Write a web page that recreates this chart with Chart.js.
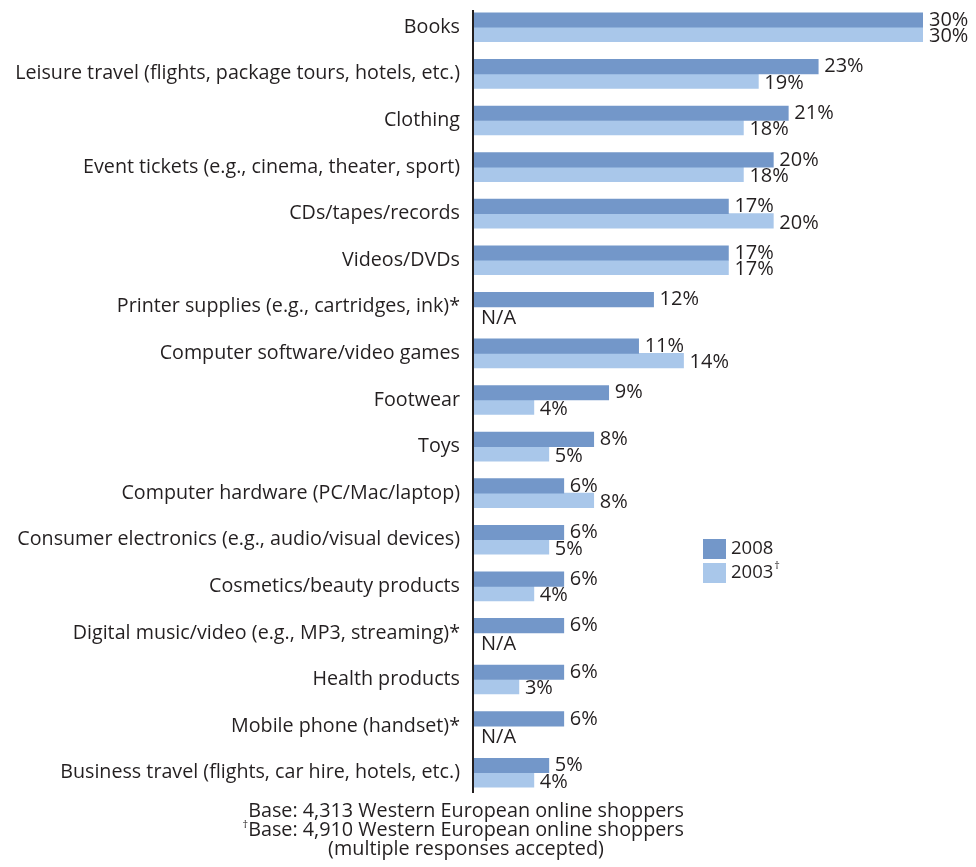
<!DOCTYPE html>
<html>
<head>
<meta charset="utf-8">
<script src="https://cdn.jsdelivr.net/npm/chart.js@4/dist/chart.umd.min.js"></script>
<style>
  html, body { margin: 0; padding: 0; background: #fff; }
  #wrap { width: 976px; height: 867px; }
</style>
</head>
<body>
<div id="wrap"><canvas id="c" width="976" height="867"></canvas></div>
<script>
const categories = [
  'Books',
  'Leisure travel (flights, package tours, hotels, etc.)',
  'Clothing',
  'Event tickets (e.g., cinema, theater, sport)',
  'CDs/tapes/records',
  'Videos/DVDs',
  'Printer supplies (e.g., cartridges, ink)*',
  'Computer software/video games',
  'Footwear',
  'Toys',
  'Computer hardware (PC/Mac/laptop)',
  'Consumer electronics (e.g., audio/visual devices)',
  'Cosmetics/beauty products',
  'Digital music/video (e.g., MP3, streaming)*',
  'Health products',
  'Mobile phone (handset)*',
  'Business travel (flights, car hire, hotels, etc.)'
];
const values2008 = [30, 23, 21, 20, 17, 17, 12, 11, 9, 8, 6, 6, 6, 6, 6, 6, 5];
const values2003 = [30, 19, 18, 18, 20, 17, null, 14, 4, 5, 8, 5, 4, null, 3, null, 4];
const seriesNames = ['2008', '2003'];
const footnotes = [
  'Base: 4,313 Western European online shoppers',
  'Base: 4,910 Western European online shoppers',
  '(multiple responses accepted)'
];

const FONT = '"Open Sans", "Noto Sans", sans-serif';
const TEXT = '#231f20';
const DARK = '#7397c9';
const LIGHT = '#a9c7ea';

// axis line plus value labels at the end of each bar; missing values read "N/A"
const valueLabels = {
  id: 'valueLabels',
  afterDatasetsDraw(chart) {
    const ctx = chart.ctx;
    const area = chart.chartArea;
    ctx.save();
    ctx.strokeStyle = TEXT;
    ctx.lineWidth = 2;
    ctx.beginPath();
    ctx.moveTo(area.left - 1, area.top + 6);
    ctx.lineTo(area.left - 1, area.bottom - 3);
    ctx.stroke();

    ctx.font = '20px ' + FONT;
    ctx.fillStyle = TEXT;
    ctx.textAlign = 'left';
    ctx.textBaseline = 'middle';
    chart.data.datasets.forEach((ds, di) => {
      const meta = chart.getDatasetMeta(di);
      meta.data.forEach((bar, i) => {
        const v = ds.data[i];
        const dy = di === 0 ? 0 : 2;
        if (v === null || v === undefined) {
          const y = chart.scales.y.getPixelForValue(i) + 7 + 4;
          ctx.fillText('N/A', area.left + 7, y);
        } else {
          ctx.fillText(v + '%', bar.x + 6, bar.y + dy);
        }
      });
    });
    ctx.restore();
  }
};

// legend boxes inside the plot and the base notes below it
const notes = {
  id: 'notes',
  afterDraw(chart) {
    const ctx = chart.ctx;
    ctx.save();
    const lx = 703, ly = [539, 563];
    const colors = [DARK, LIGHT];
    ctx.textBaseline = 'middle';
    ctx.textAlign = 'left';
    seriesNames.forEach((name, i) => {
      ctx.fillStyle = colors[i];
      ctx.fillRect(lx, ly[i], 23, 20);
      ctx.fillStyle = TEXT;
      ctx.font = '18.5px ' + FONT;
      ctx.fillText(name, lx + 28, ly[i] + 10);
      if (i === 1) {
        const w = ctx.measureText(name).width;
        ctx.font = '11px ' + FONT;
        ctx.fillText('\u2020', lx + 29 + w, ly[i] + 3);
      }
    });

    const cx = 466;
    const ys = [811, 830, 849];
    ctx.textAlign = 'center';
    footnotes.forEach((t, i) => {
      ctx.font = '19.8px ' + FONT;
      ctx.fillStyle = TEXT;
      ctx.fillText(t, cx, ys[i]);
      if (i === 1) {
        const w = ctx.measureText(t).width;
        ctx.font = '11px ' + FONT;
        ctx.textAlign = 'right';
        ctx.fillText('\u2020', cx - w / 2, ys[i] - 5);
        ctx.textAlign = 'center';
      }
    });
    ctx.restore();
  }
};

new Chart(document.getElementById('c'), {
  type: 'bar',
  data: {
    labels: categories,
    datasets: [
      { label: seriesNames[0], data: values2008, backgroundColor: DARK, barThickness: 14.5 },
      { label: seriesNames[1], data: values2003, backgroundColor: LIGHT, barThickness: 14.5 }
    ]
  },
  options: {
    indexAxis: 'y',
    responsive: false,
    animation: false,
    layout: { padding: { top: 4, right: 53, bottom: 71, left: 0 } },
    plugins: {
      legend: { display: false },
      tooltip: { enabled: false }
    },
    scales: {
      x: { display: false, min: 0, max: 30 },
      y: {
        afterFit(scale) {
          scale.width = 474;
          scale.paddingTop = 0;
          scale.paddingBottom = 0;
        },
        grid: { display: false, drawTicks: false },
        border: { display: false },
        ticks: {
          padding: 14,
          color: TEXT,
          font: { family: FONT, size: 19.7 }
        }
      }
    }
  },
  plugins: [valueLabels, notes]
});
</script>
</body>
</html>
